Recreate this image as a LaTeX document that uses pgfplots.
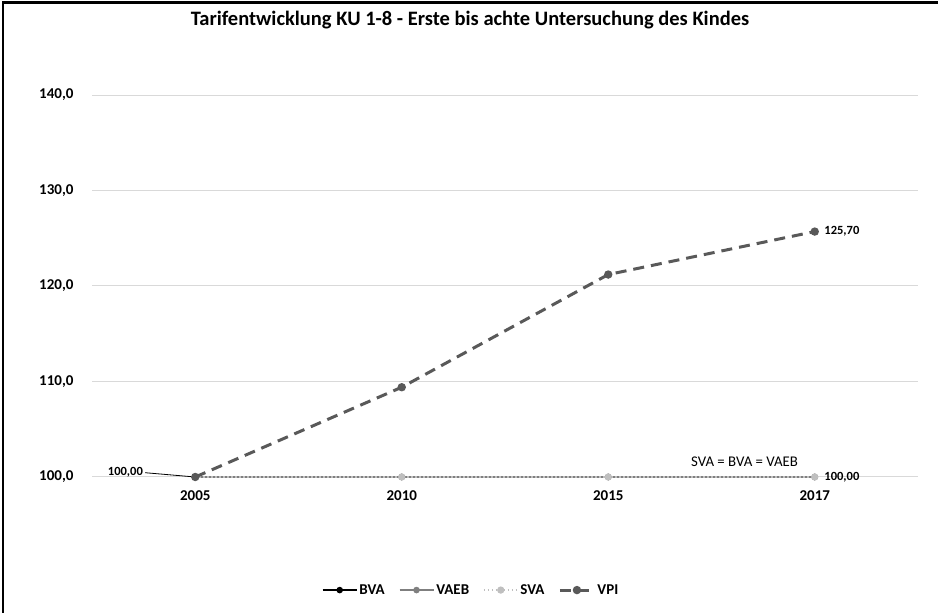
\documentclass[border=0pt]{standalone}
\usepackage{pgfplots}
\pgfplotsset{compat=1.18}
\usepackage{fontspec}
\setmainfont{Carlito}

\definecolor{vpigray}{HTML}{595959}
\definecolor{vaebgray}{HTML}{7F7F7F}
\definecolor{svagray}{HTML}{BFBFBF}
\definecolor{gridgray}{HTML}{D9D9D9}

\begin{document}
\begin{tikzpicture}[x=1pt,y=1pt]
\path[use as bounding box] (0,0) rectangle (938,613);
% frame
\draw[line width=2.5pt,black] (3,0) -- (3,610.5) -- (938,610.5);

\node[font=\bfseries\fontsize{20.5}{24}\selectfont] at (470,593) {Tarifentwicklung KU 1-8 - Erste bis achte Untersuchung des Kindes};

\begin{axis}[
  at={(92pt,136pt)}, anchor=south west,
  scale only axis, width=826pt, height=382pt,
  xmin=-0.5, xmax=3.5, ymin=100, ymax=140,
  xtick={0,1,2,3}, xticklabels={2005,2010,2015,2017},
  ytick={100,110,120,130,140},
  ymajorgrids, grid style={gridgray, line width=1pt},
  axis line style={draw=none},
  major tick length=0pt,
  clip=false,
  ticklabel style={font=\bfseries\fontsize{15}{17}\selectfont},
  yticklabel style={xshift=-15pt},
  xticklabel style={yshift=-10pt},
  /pgf/number format/.cd, fixed, fixed zerofill, precision=1, use comma, assume math mode=true,
  /pgfplots/.cd,
  legend columns=-1,
  legend style={at={(0.459,-0.296)}, anchor=center, draw=none,
    font=\bfseries\fontsize{15}{17}\selectfont,
    /tikz/every even column/.append style={column sep=12pt}},
  legend image code/.code={
    \draw[#1] (0pt,0pt) -- (34pt,0pt);
    \draw[#1, solid, mark repeat=1] plot coordinates {(17pt,0pt)};
  },
]
\addplot[black, line width=1.5pt, mark=*, mark size=2.5pt] coordinates {(0,100) (1,100) (2,100) (3,100)};
\addlegendentry{BVA}
\addplot[vaebgray, line width=1.5pt, mark=*, mark size=2.5pt] coordinates {(0,100) (1,100) (2,100) (3,100)};
\addlegendentry{VAEB}
\addplot[svagray, line width=1.2pt, dash pattern=on 1.5pt off 2.5pt, mark=*, mark size=3pt, mark options={solid}] coordinates {(0,100) (1,100) (2,100) (3,100)};
\addlegendentry{SVA}
\addplot[vpigray, line width=3pt, dash pattern=on 11pt off 7pt, mark=*, mark size=2.6pt, mark options={solid}] coordinates {(0,100) (1,109.4) (2,121.2) (3,125.7)};
\addlegendentry{VPI}

% data labels
\draw[black, line width=0.8pt] (axis cs:-0.243,100.45) -- (axis cs:0,100);
\node[anchor=east, font=\bfseries\fontsize{12.5}{14}\selectfont, inner sep=2pt] at (axis cs:-0.243,100.5) {100,00};
\node[anchor=west, font=\bfseries\fontsize{12.5}{14}\selectfont] at (axis cs:3.03,125.7) {125,70};
\node[anchor=west, font=\bfseries\fontsize{12.5}{14}\selectfont] at (axis cs:3.03,100) {100,00};
\node[font=\fontsize{14.8}{17}\selectfont] at (axis cs:2.66,101.6) {SVA = BVA = VAEB};
\end{axis}
\end{tikzpicture}
\end{document}
